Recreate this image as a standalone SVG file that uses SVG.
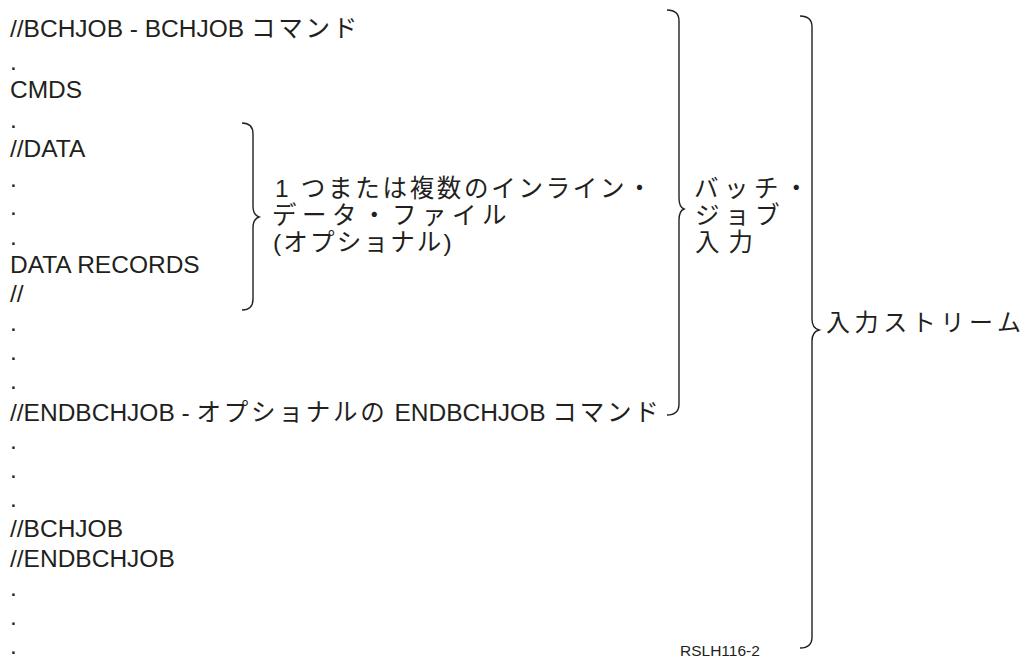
<svg xmlns="http://www.w3.org/2000/svg" width="1034" height="667" viewBox="0 0 1034 667">
<style>
text{font-family:"Liberation Sans","Noto Sans CJK JP",sans-serif;fill:#231f20;font-size:24.5px}
.j{letter-spacing:2.8px}
.br{fill:none;stroke:#231f20;stroke-width:1.4}
.id{font-size:15.5px}
</style>
<rect width="1034" height="667" fill="#fff"/>
<g id="listing">
<text x="10" y="37">//BCHJOB - BCHJOB <tspan class="j">コマンド</tspan></text>
<text x="10" y="70">.</text>
<text x="10" y="98">CMDS</text>
<text x="10" y="128">.</text>
<text x="10" y="157">//DATA</text>
<text x="10" y="187">.</text>
<text x="10" y="215">.</text>
<text x="10" y="245">.</text>
<text x="10" y="273">DATA RECORDS</text>
<text x="10" y="302">//</text>
<text x="10" y="331">.</text>
<text x="10" y="360">.</text>
<text x="10" y="389">.</text>
<text x="10" y="421">//ENDBCHJOB - <tspan class="j">オプショナルの</tspan> ENDBCHJOB <tspan class="j">コマンド</tspan></text>
<text x="10" y="449">.</text>
<text x="10" y="478">.</text>
<text x="10" y="507">.</text>
<text x="10" y="537">//BCHJOB</text>
<text x="10" y="567">//ENDBCHJOB</text>
<text x="10" y="596">.</text>
<text x="10" y="625">.</text>
<text x="10" y="654">.</text>
</g>
<g id="inline-data-label">
<text x="275" y="197" style="letter-spacing:2.7px">1 つまたは複数のインライン・</text>
<text x="272" y="224" style="letter-spacing:5.5px">データ・ファイル</text>
<text x="273" y="251" style="letter-spacing:2.2px">(オプショナル)</text>
</g>
<g id="batch-job-label">
<text x="694" y="197" style="letter-spacing:5.5px">バッチ・</text>
<text x="695" y="224" style="letter-spacing:5.5px">ジョブ</text>
<text x="695" y="251" style="letter-spacing:9px">入力</text>
</g>
<g id="input-stream-label">
<text x="826" y="331" style="font-size:24px;letter-spacing:4.6px">入力ストリーム</text>
</g>
<g id="figure-id">
<text class="id" x="680" y="656">RSLH116-2</text>
</g>
<g id="braces">
<path class="br" d="M242,123 Q253,123 253,134 L253,206 Q253,215 259,217 Q253,219 253,228 L253,299 Q253,310 242,310"/>
<path class="br" d="M667,10 Q679,10 679,21 L679,198 Q679,207 684,209 Q679,211 679,220 L679,404 Q679,415 667,415"/>
<path class="br" d="M800,16 Q812,16 812,27 L812,319 Q812,328 819,330 Q812,332 812,341 L812,637 Q812,648 800,648"/>
</g>
</svg>
